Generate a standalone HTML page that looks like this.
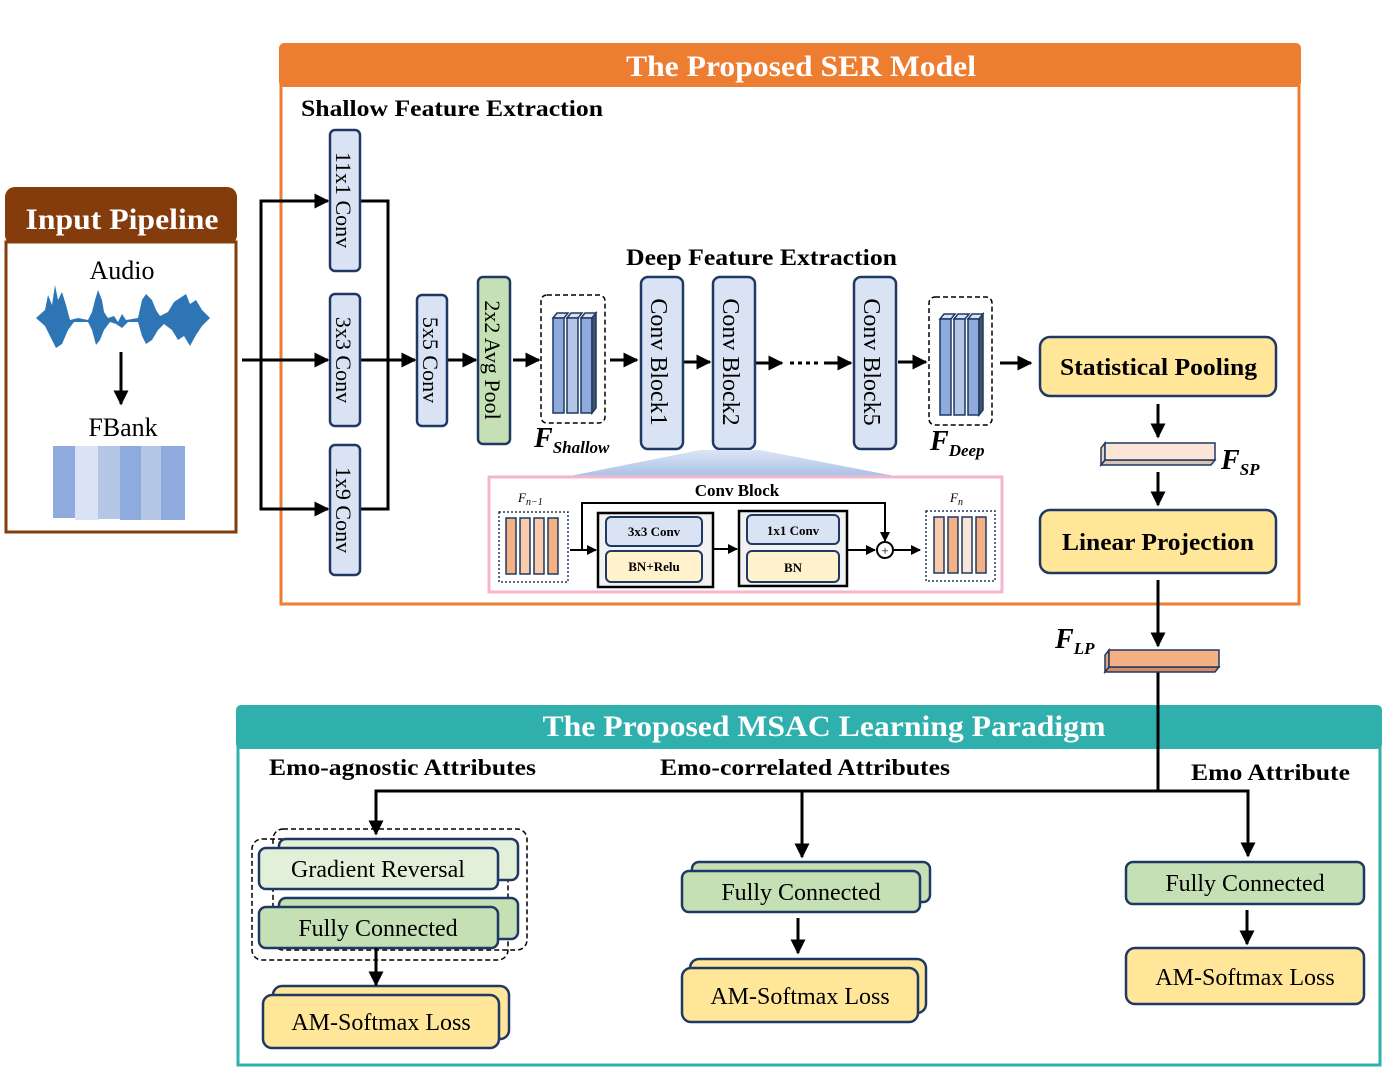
<!DOCTYPE html>
<html><head><meta charset="utf-8"><style>
html,body{margin:0;padding:0;background:#fff}
svg{display:block}
text{font-family:"Liberation Serif",serif}
.b{font-weight:bold}
</style></head><body>
<svg width="1389" height="1072" viewBox="0 0 1389 1072" xmlns="http://www.w3.org/2000/svg">
<defs>
<marker id="ah" viewBox="0 0 10 10" refX="9" refY="5" markerWidth="5" markerHeight="5" orient="auto"><path d="M0,0 L10,5 L0,10 z" fill="#000"/></marker>
<linearGradient id="trap" x1="0" y1="0" x2="0" y2="1"><stop offset="0" stop-color="#dbe5f5"/><stop offset="1" stop-color="#a9bfe6"/></linearGradient>
</defs>

<rect x="279" y="43" width="1022" height="44" rx="5" fill="#ED7D31"/>
<rect x="281" y="85" width="1018" height="519" fill="none" stroke="#ED7D31" stroke-width="3"/>
<text x="801" y="76" class="b" font-size="30" fill="#fff" text-anchor="middle" textLength="350" lengthAdjust="spacingAndGlyphs">The Proposed SER Model</text>
<text x="301" y="116" class="b" font-size="23" textLength="302" lengthAdjust="spacingAndGlyphs">Shallow Feature Extraction</text>
<text x="626" y="265" class="b" font-size="23" textLength="271" lengthAdjust="spacingAndGlyphs">Deep Feature Extraction</text>

<rect x="5" y="187" width="232" height="58" rx="10" fill="#843C0C"/>
<rect x="6" y="242" width="230" height="290" fill="#fff" stroke="#843C0C" stroke-width="3"/>
<text x="122" y="229" class="b" font-size="30" fill="#fff" text-anchor="middle" textLength="193" lengthAdjust="spacingAndGlyphs">Input Pipeline</text>
<text x="122" y="279" font-size="26" text-anchor="middle">Audio</text>
<g fill="#2E75B6">
<path d="M36,318 L45,310 L48,295 L52,305 L55,285 L58,300 L62,292 L66,305 L70,320 L78,318 L88,320 L92,312 L95,300 L98,290 L102,300 L104,312 L108,318 L114,316 L118,322 L122,314 L126,320 L138,318 L142,300 L146,294 L152,300 L156,310 L160,316 L168,312 L174,302 L180,298 L186,294 L190,304 L196,300 L202,310 L210,318 L202,326 L196,335 L190,346 L184,336 L178,340 L172,330 L164,324 L158,330 L152,340 L146,344 L142,336 L138,322 L128,322 L122,328 L116,324 L110,322 L104,330 L100,340 L96,345 L92,330 L88,322 L74,322 L68,330 L62,344 L56,348 L50,336 L45,326 z"/>
</g>
<line x1="121" y1="352" x2="121" y2="404" stroke="#000" stroke-width="3" marker-end="url(#ah)"/>
<text x="123" y="436" font-size="26" text-anchor="middle">FBank</text>
<rect x="53" y="446" width="24" height="72" fill="#8FAADC"/>
<rect x="75" y="446" width="24" height="74" fill="#DAE3F3"/>
<rect x="98" y="446" width="24" height="73" fill="#B4C7E7"/>
<rect x="120" y="446" width="22" height="74" fill="#8FAADC"/>
<rect x="141" y="446" width="22" height="74" fill="#B4C7E7"/>
<rect x="161" y="446" width="24" height="74" fill="#8FAADC"/>

<g stroke="#000" stroke-width="3" fill="none">
<line x1="242" y1="360" x2="328" y2="360" marker-end="url(#ah)"/>
<polyline points="328,201 261,201 261,509 328,509"/>
<line x1="300" y1="201" x2="328" y2="201" marker-end="url(#ah)"/>
<line x1="300" y1="509" x2="328" y2="509" marker-end="url(#ah)"/>
<polyline points="360,201 388,201 388,509 360,509"/>
<line x1="360" y1="360" x2="415" y2="360" marker-end="url(#ah)"/>
<line x1="447" y1="360" x2="476" y2="360" marker-end="url(#ah)"/>
<line x1="513" y1="360" x2="539" y2="360" marker-end="url(#ah)"/>
<line x1="610" y1="360" x2="637" y2="360" marker-end="url(#ah)"/>
<line x1="684" y1="362" x2="710" y2="362" marker-end="url(#ah)"/>
<line x1="756" y1="363" x2="782" y2="363" marker-end="url(#ah)"/>
<line x1="790" y1="363" x2="818" y2="363" stroke-dasharray="4,4"/>
<line x1="824" y1="363" x2="851" y2="363" marker-end="url(#ah)"/>
<line x1="898" y1="362" x2="926" y2="362" marker-end="url(#ah)"/>
<line x1="1000" y1="363" x2="1031" y2="363" marker-end="url(#ah)"/>
<line x1="1158" y1="404" x2="1158" y2="437" marker-end="url(#ah)"/>
<line x1="1158" y1="472" x2="1158" y2="505" marker-end="url(#ah)"/>
<line x1="1158" y1="580" x2="1158" y2="646" marker-end="url(#ah)"/>
<polyline points="1158,672 1158,791"/>
<polyline points="376,833 376,791 1248,791 1248,853"/>
<line x1="376" y1="800" x2="376" y2="834" marker-end="url(#ah)"/>
<line x1="802" y1="791" x2="802" y2="857" marker-end="url(#ah)"/>
<line x1="1248" y1="800" x2="1248" y2="856" marker-end="url(#ah)"/>
</g>

<g stroke="#1F3864" stroke-width="2.5" fill="#DAE3F3">
<rect x="330" y="130" width="30" height="141" rx="5"/>
<rect x="330" y="294" width="30" height="132" rx="5"/>
<rect x="330" y="445" width="30" height="130" rx="5"/>
<rect x="417" y="295" width="30" height="131" rx="5"/>
<rect x="478" y="277" width="32" height="167" rx="5" fill="#C5E0B4"/>
<rect x="641" y="277" width="42" height="172" rx="7"/>
<rect x="713" y="277" width="42" height="172" rx="7"/>
<rect x="854" y="277" width="42" height="172" rx="7"/>
</g>
<g font-size="22">
<text transform="translate(336,200) rotate(90)" text-anchor="middle">11x1 Conv</text>
<text transform="translate(336,360) rotate(90)" text-anchor="middle">3x3 Conv</text>
<text transform="translate(336,510) rotate(90)" text-anchor="middle">1x9 Conv</text>
<text transform="translate(423,360) rotate(90)" text-anchor="middle">5x5 Conv</text>
<text transform="translate(485,360) rotate(90)" text-anchor="middle">2x2 Avg Pool</text>
<text transform="translate(651,362) rotate(90)" text-anchor="middle" font-size="24">Conv Block1</text>
<text transform="translate(723,362) rotate(90)" text-anchor="middle" font-size="24">Conv Block2</text>
<text transform="translate(864,362) rotate(90)" text-anchor="middle" font-size="24">Conv Block5</text>
</g>

<rect x="541" y="295" width="64" height="128" rx="6" fill="none" stroke="#000" stroke-width="1.5" stroke-dasharray="5,3"/>
<rect x="929" y="297" width="63" height="128" rx="6" fill="none" stroke="#000" stroke-width="1.5" stroke-dasharray="5,3"/>
<g stroke="#1F3864" stroke-width="1.5" fill="#8FAADC">
<path d="M553,318 l4,-5 h11 l-4,5z" fill="#DAE3F3"/><rect x="553" y="318" width="11" height="95"/>
<path d="M567,318 l4,-5 h11 l-4,5z" fill="#DAE3F3"/><rect x="567" y="318" width="11" height="95" fill="#B4C7E7"/>
<path d="M581,318 l4,-5 h11 l-4,5z" fill="#DAE3F3"/><rect x="581" y="318" width="11" height="95"/>
<path d="M592,318 l4,-5 v95 l-4,5z" fill="#44546A"/>
<path d="M940,319 l4,-5 h11 l-4,5z" fill="#DAE3F3"/><rect x="940" y="319" width="11" height="96"/>
<path d="M954,319 l4,-5 h11 l-4,5z" fill="#DAE3F3"/><rect x="954" y="319" width="11" height="96" fill="#B4C7E7"/>
<path d="M968,319 l4,-5 h11 l-4,5z" fill="#DAE3F3"/><rect x="968" y="319" width="11" height="96"/>
<path d="M979,319 l4,-5 v96 l-4,5z" fill="#44546A"/>
</g>
<text x="534" y="447" font-size="28" font-style="italic" class="b">F<tspan font-size="17" dy="6">Shallow</tspan></text>
<text x="930" y="450" font-size="28" font-style="italic" class="b">F<tspan font-size="17" dy="6">Deep</tspan></text>

<path d="M700,450 L760,450 L900,477 L565,477 z" fill="url(#trap)"/>
<rect x="489" y="477" width="513" height="115" fill="#fff" stroke="#F4B6CF" stroke-width="3"/>
<text x="737" y="496" class="b" font-size="17" text-anchor="middle">Conv Block</text>
<text x="518" y="502" font-size="13" font-style="italic">F<tspan font-size="10" dy="3">n−1</tspan></text>
<text x="950" y="502" font-size="13" font-style="italic">F<tspan font-size="10" dy="3">n</tspan></text>
<rect x="499" y="512" width="69" height="70" fill="none" stroke="#1F3864" stroke-width="1.5" stroke-dasharray="2,2"/>
<rect x="926" y="511" width="69" height="70" fill="none" stroke="#1F3864" stroke-width="1.5" stroke-dasharray="2,2"/>
<g stroke="#1F3864" stroke-width="1.5">
<rect x="506" y="518" width="10" height="56" fill="#F4B183"/><rect x="520" y="518" width="10" height="56" fill="#F8CBAD"/><rect x="534" y="518" width="10" height="56" fill="#F8CBAD"/><rect x="548" y="518" width="10" height="56" fill="#F4B183"/>
<rect x="934" y="517" width="10" height="56" fill="#F8CBAD"/><rect x="948" y="517" width="10" height="56" fill="#F4B183"/><rect x="962" y="517" width="10" height="56" fill="#FBE5D6"/><rect x="976" y="517" width="10" height="56" fill="#F4B183"/>
</g>
<g stroke="#000" stroke-width="2" fill="none">
<line x1="570" y1="550" x2="596" y2="550" marker-end="url(#ah)"/>
<polyline points="582,550 582,503 885,503 885,540" />
<line x1="885" y1="525" x2="885" y2="541" marker-end="url(#ah)"/>
<line x1="713" y1="549" x2="737" y2="549" marker-end="url(#ah)"/>
<line x1="848" y1="550" x2="875" y2="550" marker-end="url(#ah)"/>
<line x1="894" y1="550" x2="920" y2="550" marker-end="url(#ah)"/>
<circle cx="885" cy="550" r="8" fill="#fff"/>
</g>
<text x="885" y="555" font-size="13" text-anchor="middle">+</text>
<rect x="598" y="513" width="115" height="74" fill="#F2F2F2" stroke="#000" stroke-width="2.5"/>
<rect x="739" y="511" width="108" height="75" fill="#F2F2F2" stroke="#000" stroke-width="2.5"/>
<g stroke="#1F3864" stroke-width="2">
<rect x="606" y="517" width="96" height="29" rx="5" fill="#DAE3F3"/>
<rect x="606" y="551" width="96" height="31" rx="5" fill="#FFF2CC"/>
<rect x="747" y="515" width="92" height="29" rx="5" fill="#DAE3F3"/>
<rect x="747" y="551" width="92" height="31" rx="5" fill="#FFF2CC"/>
</g>
<g font-size="13" text-anchor="middle" font-weight="bold">
<text x="654" y="536">3x3 Conv</text><text x="654" y="571">BN+Relu</text>
<text x="793" y="535">1x1 Conv</text><text x="793" y="572">BN</text>
</g>

<g stroke="#1F3864" stroke-width="2.5" fill="#FFE699">
<rect x="1040" y="337" width="236" height="59" rx="10"/>
<rect x="1040" y="510" width="236" height="63" rx="10"/>
</g>
<text x="1060" y="375" class="b" font-size="24" textLength="197" lengthAdjust="spacingAndGlyphs">Statistical Pooling</text>
<text x="1062" y="550" class="b" font-size="24" textLength="192" lengthAdjust="spacingAndGlyphs">Linear Projection</text>
<g stroke="#1F3864" stroke-width="1.5">
<path d="M1101,465 l4,-5 h110 l-4,5z" fill="#D9C3B5"/>
<path d="M1101,465 v-17 l4,-5 v17z" fill="#E7D3C6"/>
<rect x="1105" y="443" width="110" height="17" fill="#FBE5D6"/>
<path d="M1105,672 l4,-5 h110 l-4,5z" fill="#D18C65"/>
<path d="M1105,672 v-17 l4,-5 v17z" fill="#E9A27C"/>
<rect x="1109" y="650" width="110" height="17" fill="#F4B183"/>
</g>
<text x="1221" y="469" font-size="28" font-style="italic" class="b">F<tspan font-size="17" dy="6">SP</tspan></text>
<text x="1055" y="648" font-size="28" font-style="italic" class="b">F<tspan font-size="17" dy="6">LP</tspan></text>

<rect x="236" y="705" width="1146" height="44" rx="5" fill="#2FB0AD"/>
<rect x="238" y="747" width="1142" height="318" fill="none" stroke="#2FB0AD" stroke-width="3"/>
<line x1="1158" y1="700" x2="1158" y2="791" stroke="#000" stroke-width="3"/>
<text x="824" y="736" class="b" font-size="30" fill="#fff" text-anchor="middle" textLength="563" lengthAdjust="spacingAndGlyphs">The Proposed MSAC Learning Paradigm</text>
<text x="269" y="775" class="b" font-size="23" textLength="267" lengthAdjust="spacingAndGlyphs">Emo-agnostic Attributes</text>
<text x="660" y="775" class="b" font-size="23" textLength="290" lengthAdjust="spacingAndGlyphs">Emo-correlated Attributes</text>
<text x="1191" y="780" class="b" font-size="23" textLength="159" lengthAdjust="spacingAndGlyphs">Emo Attribute</text>

<rect x="273" y="829" width="254" height="121" rx="10" fill="none" stroke="#000" stroke-width="1.5" stroke-dasharray="5,3"/>
<rect x="252" y="839" width="256" height="121" rx="10" fill="none" stroke="#000" stroke-width="1.5" stroke-dasharray="5,3"/>
<g stroke="#1F3864" stroke-width="2.5">
<rect x="279" y="839" width="239" height="41" rx="7" fill="#E2F0D9"/>
<rect x="259" y="848" width="239" height="41" rx="7" fill="#E2F0D9"/>
<rect x="279" y="898" width="239" height="41" rx="7" fill="#C5E0B4"/>
<rect x="259" y="907" width="239" height="41" rx="7" fill="#C5E0B4"/>
<rect x="273" y="986" width="236" height="53" rx="9" fill="#FFE699"/>
<rect x="263" y="995" width="236" height="53" rx="9" fill="#FFE699"/>
<rect x="692" y="862" width="238" height="40" rx="7" fill="#C5E0B4"/>
<rect x="682" y="871" width="238" height="41" rx="7" fill="#C5E0B4"/>
<rect x="690" y="959" width="236" height="54" rx="9" fill="#FFE699"/>
<rect x="682" y="968" width="236" height="54" rx="9" fill="#FFE699"/>
<rect x="1126" y="862" width="238" height="42" rx="7" fill="#C5E0B4"/>
<rect x="1126" y="948" width="238" height="56" rx="9" fill="#FFE699"/>
</g>
<g stroke="#000" stroke-width="3">
<line x1="376" y1="948" x2="376" y2="985" marker-end="url(#ah)"/>
<line x1="798" y1="918" x2="798" y2="953" marker-end="url(#ah)"/>
<line x1="1247" y1="910" x2="1247" y2="944" marker-end="url(#ah)"/>
</g>
<g font-size="24" text-anchor="middle">
<text x="378" y="877">Gradient Reversal</text>
<text x="378" y="936">Fully Connected</text>
<text x="381" y="1030">AM-Softmax Loss</text>
<text x="801" y="900">Fully Connected</text>
<text x="800" y="1004">AM-Softmax Loss</text>
<text x="1245" y="891">Fully Connected</text>
<text x="1245" y="985">AM-Softmax Loss</text>
</g>
</svg>
</body></html>
